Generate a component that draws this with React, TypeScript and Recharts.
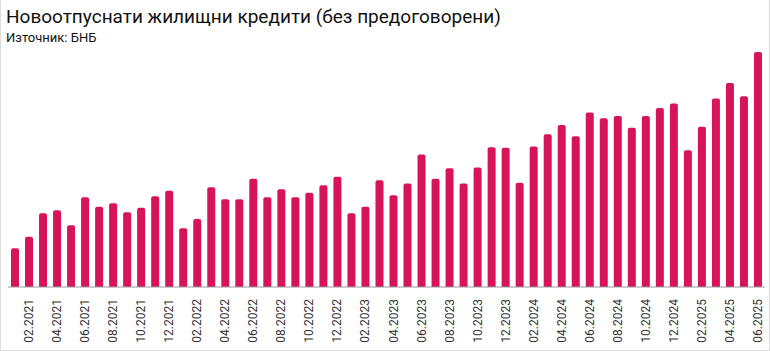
import { BarChart, Bar, XAxis, YAxis } from 'recharts'

const months = [
  '01.2021', '02.2021', '03.2021', '04.2021', '05.2021', '06.2021', '07.2021', '08.2021', '09.2021', '10.2021', '11.2021', '12.2021',
  '01.2022', '02.2022', '03.2022', '04.2022', '05.2022', '06.2022', '07.2022', '08.2022', '09.2022', '10.2022', '11.2022', '12.2022',
  '01.2023', '02.2023', '03.2023', '04.2023', '05.2023', '06.2023', '07.2023', '08.2023', '09.2023', '10.2023', '11.2023', '12.2023',
  '01.2024', '02.2024', '03.2024', '04.2024', '05.2024', '06.2024', '07.2024', '08.2024', '09.2024', '10.2024', '11.2024', '12.2024',
  '01.2025', '02.2025', '03.2025', '04.2025', '05.2025', '06.2025',
]

// new mortgage loans, approx. mln BGN
const loans = [
  194, 252, 369, 384, 309, 449, 402, 420, 374, 397, 454, 482,
  294, 340, 500, 439, 439, 542, 449, 490, 449, 472, 509, 552,
  369, 402, 535, 459, 519, 664, 542, 595, 519, 599, 700, 697,
  522, 704, 765, 812, 755, 874, 845, 857, 797, 857, 897, 919,
  685, 802, 944, 1022, 955, 1177,
]

const chartData = months.map((month, i) => ({ month, value: loans[i] }))

const MonthTick = ({ x, y, payload, index }: { x?: number; y?: number; payload?: { value: string }; index?: number }) => {
  if (index === undefined || index % 2 === 0) return null
  return (
    <text
      x={x}
      y={y}
      transform={`rotate(-90, ${x}, ${y})`}
      textAnchor="end"
      dominantBaseline="central"
      fontSize={12}
      fill="#333"
      fontFamily="Roboto, sans-serif"
    >
      {payload?.value}
    </text>
  )
}

export default function App() {
  return (
    <div
      style={{
        position: 'relative',
        width: 770,
        height: 351,
        boxSizing: 'border-box',
        borderLeft: '1px solid #dcdcdc',
        borderRight: '1px solid #dcdcdc',
        borderBottom: '1px solid #dcdcdc',
        background: '#fff',
        fontFamily: 'Roboto, sans-serif',
      }}
    >
      <style>{`body { margin: 0; }`}</style>
      <div style={{ position: 'absolute', left: 5, top: 6, fontSize: 19, color: '#111', lineHeight: '22px' }}>
        Новоотпуснати жилищни кредити (без предоговорени)
      </div>
      <div style={{ position: 'absolute', left: 5, top: 30, fontSize: 13, color: '#111', lineHeight: '15px' }}>
        Източник: БНБ
      </div>
      <div style={{ position: 'absolute', left: 0, top: 0 }}>
        <BarChart width={770} height={351} data={chartData} margin={{ top: 52, right: 6, left: 7, bottom: 0 }} barSize={8}>
          <XAxis
            dataKey="month"
            interval={0}
            tickLine={false}
            axisLine={{ stroke: '#999' }}
            height={64}
            tick={<MonthTick />}
            tickMargin={6}
          />
          <YAxis hide domain={[0, 1177]} />
          <Bar dataKey="value" fill="#d7145a" radius={[2, 2, 0, 0]} isAnimationActive={false} />
        </BarChart>
      </div>
    </div>
  )
}
